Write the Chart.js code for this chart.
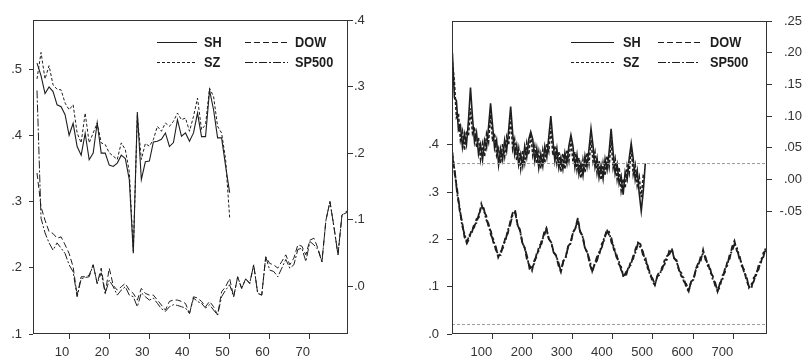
<!DOCTYPE html>
<html>
<head>
<meta charset="utf-8">
<script src="https://cdn.jsdelivr.net/npm/chart.js@4.4.1/dist/chart.umd.min.js"></script>
<style>
  body { margin: 0; background: #fff; }
  #wrap { position: relative; width: 805px; height: 361px; }
  .pane { position: absolute; top: 0; height: 361px; }
</style>
</head>
<body>
<div id="wrap">
  <div class="pane" style="left:0;width:400px"><canvas id="chart_left"></canvas></div>
  <div class="pane" style="left:400px;width:402px"><canvas id="chart_right"></canvas></div>
</div>
<script>
// ---- data ----
const seriesNames = ['SH', 'SZ', 'DOW', 'SP500'];

// left panel: SH, SZ on lags 2..50 (left axis), DOW, SP500 on lags 2..80 (right axis)
const lagsLeftA = Array.from({length: 49}, (_, i) => i + 2);
const lagsLeftB = Array.from({length: 79}, (_, i) => i + 2);
const shLeft = [.509,.49,.463,.473,.466,.446,.443,.431,.40,.418,.383,.37,.403,.363,.373,.419,.373,.373,.355,.353,
  .358,.37,.365,.333,.222,.435,.333,.36,.361,.39,.391,.394,.4035,.383,.389,.4235,.3985,.4035,.391,.4035,
  .4335,.398,.398,.468,.4385,.396,.396,.3535,.3135];
const szLeft = [.485,.525,.485,.505,.476,.4695,.4685,.4485,.4385,.446,.4035,.3885,.4335,.3885,.4035,.4185,.3885,.386,.3735,.3685,
  .3635,.3885,.3785,.345,.225,.43,.3635,.3875,.3835,.3935,.4135,.406,.4185,.4135,.421,.4335,.4235,.426,.406,.4285,
  .456,.4085,.416,.471,.4585,.4135,.4035,.3635,.276];
const dowLeft = [.17,.119,.099,.082,.079,.072,.074,.062,.049,.029,-.014,.014,.014,.0165,.032,.004,.027,-.011,.027,.001,
  -.006,-.001,.004,-.006,-.011,-.021,-.0035,-.011,-.0135,-.0135,-.021,-.0285,-.036,-.023,-.021,-.021,-.023,-.026,-.041,-.016,
  -.018,-.023,-.031,-.023,-.031,-.0435,-.0085,-.001,.0115,-.016,.014,-.0035,.011,.004,.032,-.011,-.0135,.044,.034,.032,
  .027,.037,.047,.032,.042,.062,.06,.047,.069,.072,.057,.0365,.099,.127,.089,.047,.107,.112,.115];
const spLeft = [.294,.102,.08,.065,.054,.065,.057,.049,.032,.0215,-.016,.011,.013,.014,.032,.004,.02,-.011,.009,-.001,
  -.0135,-.006,-.001,-.0135,-.016,-.031,-.01,-.016,-.021,-.018,-.026,-.034,-.038,-.031,-.028,-.029,-.031,-.033,-.041,-.018,
  -.023,-.026,-.033,-.028,-.036,-.0435,-.016,-.006,.002,-.016,.014,-.0035,.011,.004,.032,-.011,-.0135,.044,.024,.022,
  .014,.027,.04,.027,.032,.055,.057,.037,.067,.062,.055,.0365,.099,.127,.089,.047,.107,.11,.113];

// right panel: SH, SZ every 5th lag 1..481 (right axis), DOW, SP500 every 6th lag 1..781 (left axis)
const lagsRightA = Array.from({length: 97}, (_, i) => 1 + 5 * i);
const lagsRightB = Array.from({length: 131}, (_, i) => 1 + 6 * i);
const shRight = [.2,.129,.124,.078,.085,.051,.072,.055,.093,.145,
  .098,.059,.074,.04,.055,.031,.062,.05,.083,.12,
  .085,.049,.062,.023,.048,.031,.062,.045,.078,.115,
  .073,.039,.054,.023,.04,.021,.052,.035,.063,.075,
  .063,.029,.049,.018,.04,.021,.052,.035,.068,.1,
  .063,.029,.049,.018,.035,.016,.042,.025,.053,.07,
  .053,.019,.039,.008,.025,.006,.037,.02,.048,.08,
  .053,.019,.034,.003,.022,.001,.032,.015,.043,.08,
  .043,.009,.024,-.007,.005,-.024,.012,0,.033,.057,
  .033,-.001,.014,-.022,-.05,-.019,.025];
const szRight = [.185,.153,.098,.104,.062,.076,.046,.077,.069,.112,
  .073,.083,.05,.066,.032,.056,.036,.072,.059,.102,
  .06,.073,.038,.049,.025,.056,.036,.067,.054,.097,
  .048,.063,.03,.049,.017,.046,.026,.057,.039,.072,
  .038,.053,.025,.044,.017,.046,.026,.057,.044,.082,
  .038,.053,.025,.044,.012,.041,.016,.047,.029,.062,
  .028,.043,.015,.034,.002,.031,.011,.042,.024,.062,
  .028,.043,.01,.029,-.001,.026,.006,.037,.019,.062,
  .018,.033,0,.019,-.018,.001,-.014,.022,.009,.052,
  .008,.023,-.01,.004,-.028,.006,.003];
const dowRight = [.384,.337,.305,.261,.238,.205,.192,.202,.222,.225,
  .243,.247,.275,.259,.251,.226,.217,.193,.185,.162,
  .174,.182,.205,.213,.238,.256,.262,.232,.221,.194,
  .182,.155,.145,.134,.156,.164,.187,.191,.214,.224,
  .201,.194,.173,.166,.145,.131,.154,.163,.186,.192,
  .215,.223,.245,.217,.208,.182,.172,.147,.132,.147,
  .164,.169,.191,.198,.222,.209,.202,.178,.171,.148,
  .142,.119,.131,.135,.154,.159,.181,.193,.19,.168,
  .163,.139,.131,.109,.104,.123,.133,.136,.156,.157,
  .177,.181,.16,.156,.136,.122,.119,.098,.09,.111,
  .115,.138,.15,.155,.178,.157,.152,.13,.123,.102,
  .091,.1,.124,.13,.152,.159,.184,.197,.176,.169,
  .144,.136,.113,.101,.096,.119,.124,.145,.151,.172,
  .176];
const spRight = [.375,.344,.296,.268,.23,.212,.194,.209,.213,.232,
  .235,.254,.268,.266,.242,.233,.209,.2,.178,.169,
  .167,.189,.197,.22,.231,.253,.258,.231,.219,.193,
  .182,.164,.138,.142,.149,.171,.177,.198,.207,.222,
  .201,.194,.172,.166,.151,.133,.154,.162,.184,.191,
  .214,.224,.24,.216,.206,.181,.172,.155,.133,.148,
  .155,.176,.183,.205,.214,.216,.193,.185,.163,.155,
  .135,.127,.122,.142,.146,.165,.173,.192,.183,.175,
  .153,.145,.124,.118,.104,.122,.125,.142,.147,.165,
  .169,.179,.16,.154,.134,.129,.111,.106,.091,.11,
  .115,.136,.144,.164,.17,.163,.143,.137,.115,.109,
  .09,.108,.115,.137,.144,.168,.175,.19,.183,.16,
  .15,.13,.122,.098,.105,.111,.13,.136,.158,.163,
  .183];
// reference bands in the right panel
const bandLags = [0, 784];
const bandLeftAxis = [0.02, 0.02];
const bandRightAxis = [0.025, 0.025];

// tick values and labels
const xTicksLeft = [10, 20, 30, 40, 50, 60, 70];
const yTicksLeft = [.1, .2, .3, .4, .5];
const yLabelsLeft = ['.1', '.2', '.3', '.4', '.5'];
const y2TicksLeft = [0, .1, .2, .3, .4];
const y2LabelsLeft = ['.0', '.1', '.2', '.3', '.4'];
const xTicksRight = [100, 200, 300, 400, 500, 600, 700];
const yTicksRight = [0, .1, .2, .3, .4];
const yLabelsRight = ['.0', '.1', '.2', '.3', '.4'];
const y2TicksRight = [-.05, 0, .05, .10, .15, .20, .25];
const y2LabelsRight = ['-.05', '.00', '.05', '.10', '.15', '.20', '.25'];

// ---- drawing ----
const fontFamily = "'Liberation Sans', Arial, Helvetica, sans-serif";
const ink = '#1e1e1e';
const dashes = [[], [3, 2], [6, 3], [8, 2, 2, 2]];

function pts(xs, ys) { return ys.map((v, i) => ({x: xs[i], y: v})); }

function line(label, xs, ys, axis, dash, width) {
  return {label: label, data: pts(xs, ys), yAxisID: axis, borderColor: ink, borderWidth: width,
    borderDash: dash, pointRadius: 0, tension: 0, fill: false};
}

const framePlugin = {
  id: 'frame',
  afterDraw(chart) {
    const a = chart.chartArea, ctx = chart.ctx;
    ctx.save();
    ctx.strokeStyle = '#333';
    ctx.lineWidth = 1;
    ctx.strokeRect(Math.round(a.left) + 0.5, Math.round(a.top) + 0.5,
      Math.round(a.right - a.left) - 1, Math.round(a.bottom - a.top) - 1);
    ctx.restore();
  }
};

function makeLegend(items) {
  return {
    id: 'boxLegend',
    afterDraw(chart) {
      const ctx = chart.ctx;
      ctx.save();
      ctx.strokeStyle = ink;
      ctx.fillStyle = ink;
      ctx.lineWidth = 1;
      ctx.font = 'bold 15px ' + fontFamily;
      ctx.textBaseline = 'middle';
      items.forEach(it => {
        ctx.setLineDash(it.dash);
        ctx.beginPath();
        ctx.moveTo(it.x0, it.y + 0.5);
        ctx.lineTo(it.x1, it.y + 0.5);
        ctx.stroke();
        ctx.save();
        ctx.translate(it.tx, it.y + 1);
        ctx.scale(0.85, 1);
        ctx.fillText(it.label, 0, 0);
        ctx.restore();
      });
      ctx.restore();
    }
  };
}

function legendItems(c1x0, c1x1, c1tx, c2x0, c2x1, c2tx) {
  return [
    {label: seriesNames[0], dash: dashes[0], x0: c1x0, x1: c1x1, tx: c1tx, y: 42},
    {label: seriesNames[1], dash: dashes[1], x0: c1x0, x1: c1x1, tx: c1tx, y: 62},
    {label: seriesNames[2], dash: dashes[2], x0: c2x0, x1: c2x1, tx: c2tx, y: 42},
    {label: seriesNames[3], dash: dashes[3], x0: c2x0, x1: c2x1, tx: c2tx, y: 62}
  ];
}

const tickFont = {family: fontFamily, size: 13};

function fixed(values) { return s => { s.ticks = values.map(v => ({value: v})); }; }

function xAxis(min, max, values) {
  return {
    type: 'linear', min: min, max: max,
    afterBuildTicks: fixed(values),
    afterFit: s => { s.height = 27; },
    grid: {drawOnChartArea: false, tickLength: 5, color: '#333'},
    border: {display: false},
    ticks: {align: 'end', padding: 6, font: tickFont, color: '#333', maxRotation: 0, autoSkip: false,
      callback: v => String(v)}
  };
}

function yAxis(pos, min, max, values, labels, width, tl, pad, cross) {
  return {
    position: pos, min: min, max: max,
    afterBuildTicks: fixed(values),
    afterFit: s => { s.width = width; },
    grid: {drawOnChartArea: false, tickLength: tl, color: '#333'},
    border: {display: false},
    ticks: {padding: pad, font: tickFont, color: '#333', autoSkip: false, crossAlign: cross,
      callback: (v, i) => labels[i]}
  };
}

const leftChart = new Chart(document.getElementById('chart_left').getContext('2d'), {
  type: 'line',
  data: {
    datasets: [
      line(seriesNames[0], lagsLeftA, shLeft, 'y', dashes[0], 1.1),
      line(seriesNames[1], lagsLeftA, szLeft, 'y', dashes[1], 1),
      line(seriesNames[2], lagsLeftB, dowLeft, 'y2', dashes[2], 1),
      line(seriesNames[3], lagsLeftB, spLeft, 'y2', dashes[3], 1)
    ]
  },
  options: {
    responsive: true, maintainAspectRatio: false, animation: false,
    layout: {padding: {top: 20, left: 0, right: 0, bottom: 0}},
    plugins: {legend: {display: false}, tooltip: {enabled: false}},
    scales: {
      x: xAxis(1, 79.5, xTicksLeft),
      y: yAxis('left', 0.1, 0.574, yTicksLeft, yLabelsLeft, 33, 4, 7, 'near'),
      y2: yAxis('right', -0.072, 0.4, y2TicksLeft, y2LabelsLeft, 52, 5, 1, 'near')
    }
  },
  plugins: [framePlugin, makeLegend(legendItems(157, 197, 204, 245, 288, 295))]
});

const bandStyle = {borderColor: '#9a9a9a', borderWidth: 1, borderDash: [3, 2], pointRadius: 0, fill: false};

const rightChart = new Chart(document.getElementById('chart_right').getContext('2d'), {
  type: 'line',
  data: {
    datasets: [
      Object.assign({label: 'band1', data: pts(bandLags, bandRightAxis), yAxisID: 'y2'}, bandStyle),
      Object.assign({label: 'band2', data: pts(bandLags, bandLeftAxis), yAxisID: 'y'}, bandStyle),
      line(seriesNames[0], lagsRightA, shRight, 'y2', dashes[0], 1.6),
      line(seriesNames[1], lagsRightA, szRight, 'y2', dashes[1], 1.6),
      line(seriesNames[2], lagsRightB, dowRight, 'y', dashes[2], 1.8),
      line(seriesNames[3], lagsRightB, spRight, 'y', dashes[3], 1.8)
    ]
  },
  options: {
    responsive: true, maintainAspectRatio: false, animation: false,
    layout: {padding: {top: 21, left: 0, right: 0, bottom: 0}},
    plugins: {legend: {display: false}, tooltip: {enabled: false}},
    scales: {
      x: xAxis(0, 784, xTicksRight),
      y: yAxis('left', 0, 0.662, yTicksRight, yLabelsRight, 52, 5, 8, 'near'),
      y2: yAxis('right', -0.244, 0.25, y2TicksRight, y2LabelsRight, 35, 5, 5, 'far')
    }
  },
  plugins: [framePlugin, makeLegend(legendItems(171, 214, 223, 258, 300, 310))]
});
</script>
</body>
</html>
